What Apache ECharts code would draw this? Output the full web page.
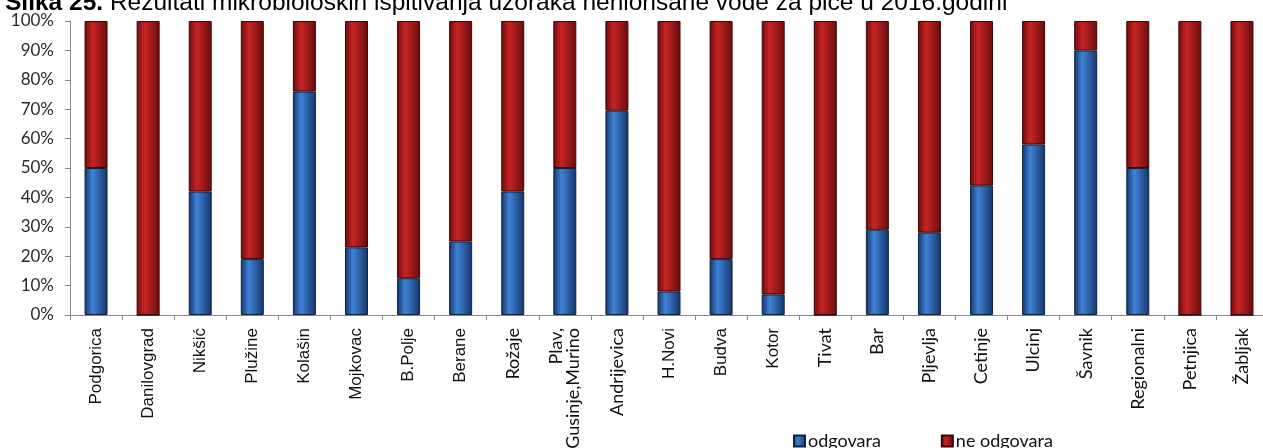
<!DOCTYPE html>
<html>
<head>
<meta charset="utf-8">
<script src="https://cdn.jsdelivr.net/npm/echarts@6/dist/echarts.min.js"></script>
<style>
  html, body { margin: 0; padding: 0; background: #fff; }
  #chart { width: 1263px; height: 448px; }
</style>
</head>
<body>
<div id="chart"></div>
<script>
// gradovi
const categories = [
  'Podgorica', 'Danilovgrad', 'Nikšić', 'Plužine', 'Kolašin', 'Mojkovac', 'B.Polje',
  'Berane', 'Rožaje', 'Plav,\nGusinje,Murino', 'Andrijevica', 'H.Novi', 'Budva', 'Kotor',
  'Tivat', 'Bar', 'Pljevlja', 'Cetinje', 'Ulcinj', 'Šavnik', 'Regionalni', 'Petnjica', 'Žabljak'
];
// labele koje su u originalu drugim fontom (Calibri)
const calibriLabels = ['Rožaje', 'Plav,\nGusinje,Murino', 'Andrijevica', 'Tivat', 'Bar', 'Pljevlja',
  'Cetinje', 'Ulcinj', 'Šavnik', 'Regionalni', 'Petnjica', 'Žabljak'];
// % uzoraka koji odgovaraju
const odgovara = [50, 0, 42, 19, 76, 23, 12.5, 25, 42, 50, 69.5, 8, 19, 7, 0, 29, 28, 44, 58, 90, 50, 0, 0];
// % uzoraka koji ne odgovaraju
const neOdgovara = [50, 100, 58, 81, 24, 77, 87.5, 75, 58, 50, 30.5, 92, 81, 93, 100, 71, 72, 56, 42, 10, 50, 100, 100];
const yTicks = [0, 10, 20, 30, 40, 50, 60, 70, 80, 90, 100];

const chart = echarts.init(document.getElementById('chart'));

function barGrad(dark, light) {
  return new echarts.graphic.LinearGradient(0, 0, 1, 0, [
    { offset: 0, color: dark },
    { offset: 0.35, color: light },
    { offset: 1, color: dark }
  ]);
}

const xData = categories.map(c => calibriLabels.includes(c)
  ? { value: c, textStyle: { fontFamily: 'Lato', fontSize: 18, lineHeight: 17 } }
  : c);

const option = {
  animation: false,
  title: {
    left: 0,
    top: -14,
    text: '{b|Slika 25.} Rezultati mikrobioloških ispitivanja uzoraka nehlorisane vode za piće u 2016.godini',
    textStyle: {
      fontFamily: 'Liberation Sans, Arial',
      fontSize: 24.5,
      fontWeight: 'normal',
      color: '#000',
      rich: {
        b: { fontFamily: 'Liberation Sans, Arial', fontSize: 24.5, fontWeight: 'bold', color: '#000' }
      }
    }
  },
  legend: {
    left: 788,
    top: 427,
    itemWidth: 11,
    itemHeight: 11,
    itemGap: 60,
    icon: 'rect',
    textStyle: { fontFamily: 'Lato', fontSize: 18, color: '#111', padding: [0, 0, 0, -2] },
    data: ['odgovara', 'ne odgovara']
  },
  grid: { left: 70, top: 21, width: 1198, bottom: 133, outerBoundsMode: 'none', containLabel: false },
  xAxis: {
    type: 'category',
    data: xData,
    axisLine: { lineStyle: { color: '#888', width: 1 } },
    axisTick: { show: true, length: 5, lineStyle: { color: '#888' } },
    axisLabel: {
      rotate: 90,
      margin: 13,
      interval: 0,
      fontFamily: 'Liberation Sans, Arial',
      fontSize: 17,
      lineHeight: 17,
      color: '#111'
    }
  },
  yAxis: {
    type: 'value',
    min: 0,
    max: 100,
    interval: 10,
    splitLine: { show: false },
    axisLine: { show: true, lineStyle: { color: '#888', width: 1 } },
    axisTick: { show: true, length: 5, lineStyle: { color: '#888' } },
    axisLabel: {
      margin: 16,
      fontFamily: 'Lato',
      fontSize: 17,
      color: '#2a2a2a',
      formatter: v => yTicks.includes(v) ? v + '%' : ''
    }
  },
  series: [
    {
      name: 'odgovara',
      type: 'bar',
      stack: 'uk',
      barWidth: 23,
      data: odgovara,
      itemStyle: {
        color: barGrad('#15356a', '#3f82d6'),
        borderColor: '#0e2240',
        borderWidth: 1
      }
    },
    {
      name: 'ne odgovara',
      type: 'bar',
      stack: 'uk',
      barWidth: 23,
      data: neOdgovara,
      itemStyle: {
        color: barGrad('#6a0c0c', '#c72424'),
        borderColor: '#3d0606',
        borderWidth: 1
      }
    }
  ]
};

chart.setOption(option);
</script>
</body>
</html>
